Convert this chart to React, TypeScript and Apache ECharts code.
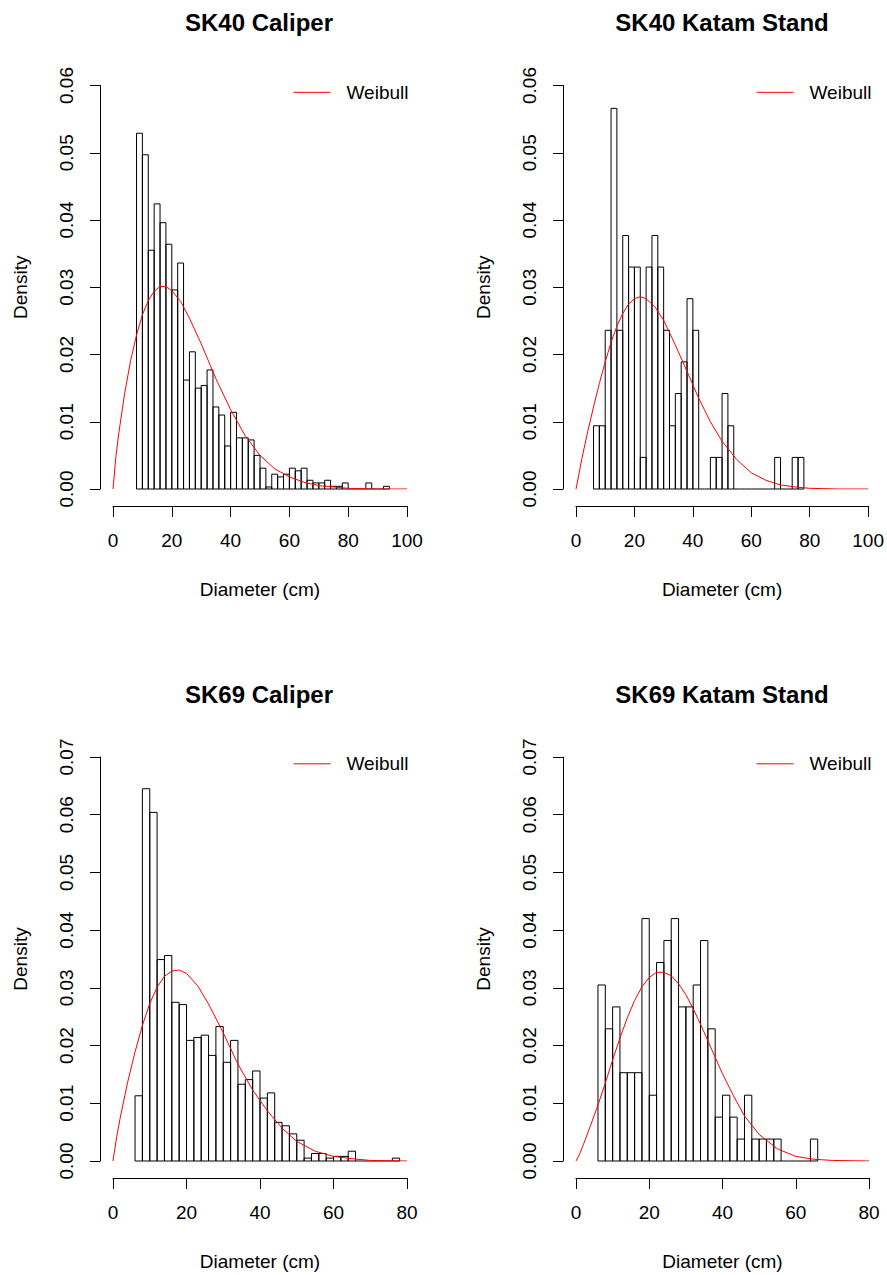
import React, { useEffect, useRef } from 'react';
import * as echarts from 'echarts';

const FONT = '"Liberation Sans", Arial, Helvetica, sans-serif';
const BIN_WIDTH = 2;
const RED = '#ff0000';

// ---------- Data ----------
const xMaxWide = 100;
const xMaxNarrow = 80;

const titles = ['SK40 Caliper', 'SK40 Katam Stand', 'SK69 Caliper', 'SK69 Katam Stand'];
const legendLabel = 'Weibull';

// Histogram densities (bins of width 2 cm; lower edge of first bin given)
const sk40CaliperStart = 8;
const sk40CaliperDensity = [
  0.0529, 0.0497, 0.0355, 0.0424, 0.0396, 0.0364, 0.0296, 0.0336, 0.0162, 0.0204,
  0.0150, 0.0154, 0.0177, 0.0122, 0.0110, 0.0064, 0.0114, 0.0076, 0.0076, 0.0073,
  0.0050, 0.0031, 0.0003, 0.0022, 0.0018, 0.0022, 0.0031, 0.0027, 0.0031, 0.0013,
  0.0009, 0.0009, 0.0013, 0.0004, 0.0004, 0.0009, 0, 0, 0, 0.0009,
  0, 0, 0.0004,
];

const sk40KatamStart = 6;
const sk40KatamDensity = [
  0.0094, 0.0094, 0.0236, 0.0566, 0.0236, 0.0377, 0.0330, 0.0330, 0.0047, 0.0330,
  0.0377, 0.0330, 0.0236, 0.0094, 0.0142, 0.0189, 0.0283, 0.0236, 0, 0,
  0.0047, 0.0047, 0.0142, 0.0094, 0, 0, 0, 0, 0, 0,
  0, 0.0047, 0, 0, 0.0047, 0.0047,
];

const sk69CaliperStart = 6;
const sk69CaliperDensity = [
  0.0113, 0.0645, 0.0604, 0.0349, 0.0356, 0.0275, 0.0271, 0.0209, 0.0214, 0.0218,
  0.0183, 0.0233, 0.0171, 0.0209, 0.0133, 0.0141, 0.0156, 0.0109, 0.0118, 0.0067,
  0.0061, 0.0047, 0.0036, 0.0005, 0.0013, 0.0013, 0.0005, 0.0008, 0.0008, 0.0017,
  0, 0, 0, 0, 0, 0.0005,
];

const sk69KatamStart = 6;
const sk69KatamDensity = [
  0.0305, 0.0229, 0.0267, 0.0153, 0.0153, 0.0153, 0.0420, 0.0114, 0.0344, 0.0382,
  0.0420, 0.0267, 0.0267, 0.0305, 0.0382, 0.0229, 0.0076, 0.0114, 0.0076, 0.0038,
  0.0114, 0.0038, 0.0038, 0.0038, 0.0038, 0, 0, 0, 0, 0.0038,
];

// Weibull density curves
const sk40CaliperCurveX = [0, 1, 2, 4, 6, 8, 10, 12, 14, 16, 18, 20, 23, 26, 30, 35, 40, 45, 50, 55, 60, 65, 70, 80, 90, 100];
const sk40CaliperCurveY = [0, 0.0049, 0.0084, 0.0143, 0.0191, 0.0229, 0.0259, 0.028, 0.0294, 0.0301, 0.0301, 0.0295, 0.0279, 0.0254, 0.0216, 0.0164, 0.0118, 0.0079, 0.005, 0.003, 0.0018, 0.001, 0.0005, 0.0001, 0, 0];

const sk40KatamCurveX = [0, 1, 2, 4, 6, 8, 10, 12, 14, 16, 18, 20, 22, 24, 27, 30, 34, 38, 42, 46, 50, 55, 60, 65, 70, 75, 80, 90, 100];
const sk40KatamCurveY = [0, 0.0022, 0.0045, 0.0085, 0.0122, 0.0157, 0.0189, 0.0218, 0.0242, 0.0261, 0.0275, 0.0283, 0.0286, 0.0283, 0.0271, 0.0251, 0.0214, 0.0175, 0.0135, 0.01, 0.0071, 0.0044, 0.0024, 0.0013, 0.0006, 0.0003, 0.0001, 0, 0];

const sk69CaliperCurveX = [0, 1, 2, 4, 6, 8, 10, 12, 14, 16, 18, 20, 23, 26, 30, 34, 38, 42, 46, 50, 55, 60, 65, 70, 80];
const sk69CaliperCurveY = [0, 0.0042, 0.0076, 0.0137, 0.0189, 0.0235, 0.0273, 0.0301, 0.032, 0.0329, 0.0331, 0.0325, 0.0304, 0.0272, 0.0222, 0.0168, 0.0123, 0.0087, 0.0057, 0.0034, 0.0017, 0.0008, 0.0004, 0.0001, 0];

const sk69KatamCurveX = [0, 1, 2, 4, 6, 8, 10, 12, 14, 16, 18, 20, 22, 24, 26, 28, 30, 32, 34, 37, 40, 43, 46, 50, 55, 60, 65, 70, 80];
const sk69KatamCurveY = [0, 0.0012, 0.0028, 0.0062, 0.0097, 0.0135, 0.0175, 0.0213, 0.0248, 0.0278, 0.0302, 0.0318, 0.0327, 0.0327, 0.0321, 0.0307, 0.0288, 0.0264, 0.0237, 0.0194, 0.0151, 0.0113, 0.0078, 0.0046, 0.0021, 0.0008, 0.0003, 0.0001, 0];

// ---------- Layout ----------
const panels = [
  { title: titles[0], start: sk40CaliperStart, density: sk40CaliperDensity, cx: sk40CaliperCurveX, cy: sk40CaliperCurveY, xMax: xMaxWide, yMax: 0.06, left: 113, top: 85.5, width: 294, height: 403.5, titleX: 259, titleY: 10 },
  { title: titles[1], start: sk40KatamStart, density: sk40KatamDensity, cx: sk40KatamCurveX, cy: sk40KatamCurveY, xMax: xMaxWide, yMax: 0.06, left: 576, top: 85.5, width: 293, height: 403.5, titleX: 722, titleY: 10 },
  { title: titles[2], start: sk69CaliperStart, density: sk69CaliperDensity, cx: sk69CaliperCurveX, cy: sk69CaliperCurveY, xMax: xMaxNarrow, yMax: 0.07, left: 113, top: 757, width: 294, height: 404, titleX: 259, titleY: 682 },
  { title: titles[3], start: sk69KatamStart, density: sk69KatamDensity, cx: sk69KatamCurveX, cy: sk69KatamCurveY, xMax: xMaxNarrow, yMax: 0.07, left: 576, top: 757, width: 293, height: 404, titleX: 722, titleY: 682 },
];

const textStyle = { color: '#000', fontFamily: FONT, fontSize: 19 };

function buildOption() {
  const grid: any[] = [];
  const xAxis: any[] = [];
  const yAxis: any[] = [];
  const series: any[] = [];
  const legend: any[] = [];
  const title: any[] = [];

  panels.forEach((p, i) => {
    const seriesName = legendLabel + ' ' + (i + 1);
    grid.push({ left: p.left, top: p.top, width: p.width, height: p.height, containLabel: false });
    xAxis.push({
      gridIndex: i,
      type: 'value',
      min: 0,
      max: p.xMax,
      interval: 20,
      offset: 17,
      axisLine: { show: true, onZero: false, lineStyle: { color: '#000', width: 1 } },
      axisTick: { show: true, length: 11, lineStyle: { color: '#000', width: 1 } },
      axisLabel: { ...textStyle, margin: 25 },
      splitLine: { show: false },
      name: 'Diameter (cm)',
      nameLocation: 'middle',
      nameGap: 74,
      nameTextStyle: { ...textStyle },
    });
    yAxis.push({
      gridIndex: i,
      type: 'value',
      min: 0,
      max: p.yMax,
      interval: 0.01,
      offset: 13,
      axisLine: { show: true, onZero: false, lineStyle: { color: '#000', width: 1 } },
      axisTick: { show: true, length: 10, lineStyle: { color: '#000', width: 1 } },
      axisLabel: { ...textStyle, rotate: 90, margin: 24, formatter: (v: number) => v.toFixed(2) },
      splitLine: { show: false },
      name: 'Density',
      nameLocation: 'middle',
      nameGap: 70,
      nameTextStyle: { ...textStyle },
    });
    series.push({
      type: 'custom',
      name: 'hist' + i,
      xAxisIndex: i,
      yAxisIndex: i,
      silent: true,
      data: p.density.map((d, k) => [p.start + k * BIN_WIDTH, p.start + (k + 1) * BIN_WIDTH, d]),
      encode: { x: [0, 1], y: 2 },
      renderItem: (params: any, api: any) => {
        const p0 = api.coord([api.value(0), 0]);
        const p1 = api.coord([api.value(1), api.value(2)]);
        const h = p0[1] - p1[1];
        if (h < 0.5) {
          return {
            type: 'line',
            shape: { x1: p0[0], y1: p0[1], x2: p1[0], y2: p0[1] },
            style: { stroke: '#000', lineWidth: 1 },
          };
        }
        return {
          type: 'rect',
          shape: { x: p0[0], y: p1[1], width: p1[0] - p0[0], height: h },
          style: { fill: 'none', stroke: '#000', lineWidth: 1 },
        };
      },
      z: 2,
    });
    series.push({
      type: 'line',
      name: seriesName,
      xAxisIndex: i,
      yAxisIndex: i,
      data: p.cx.map((x, k) => [x, p.cy[k]]),
      symbol: 'none',
      showSymbol: false,
      smooth: false,
      color: RED,
      lineStyle: { color: RED, width: 1 },
      itemStyle: { color: RED },
      z: 3,
    });
    legend.push({
      data: [seriesName],
      formatter: () => legendLabel,
      left: p.left + 180,
      top: p.top - 2.7,
      padding: 0,
      itemWidth: 37,
      itemHeight: 14,
      selectedMode: false,
      itemStyle: { opacity: 0 },
      lineStyle: { color: RED, width: 1 },
      textStyle: { ...textStyle, padding: [0, 0, 0, 11] },
    });
    title.push({
      text: p.title,
      left: p.titleX,
      top: p.titleY,
      textAlign: 'center',
      padding: 0,
      textStyle: { color: '#000', fontFamily: FONT, fontSize: 24, fontWeight: 'bold' },
    });
  });

  return { animation: false, backgroundColor: '#fff', grid, xAxis, yAxis, series, legend, title };
}

export default function App() {
  const ref = useRef<HTMLDivElement>(null);
  useEffect(() => {
    document.body.style.margin = '0';
    if (!ref.current) return;
    const chart = echarts.init(ref.current, undefined, { renderer: 'svg' });
    chart.setOption(buildOption());
    return () => chart.dispose();
  }, []);
  return <div ref={ref} style={{ position: 'absolute', left: 0, top: 0, width: 887, height: 1275 }} />;
}
